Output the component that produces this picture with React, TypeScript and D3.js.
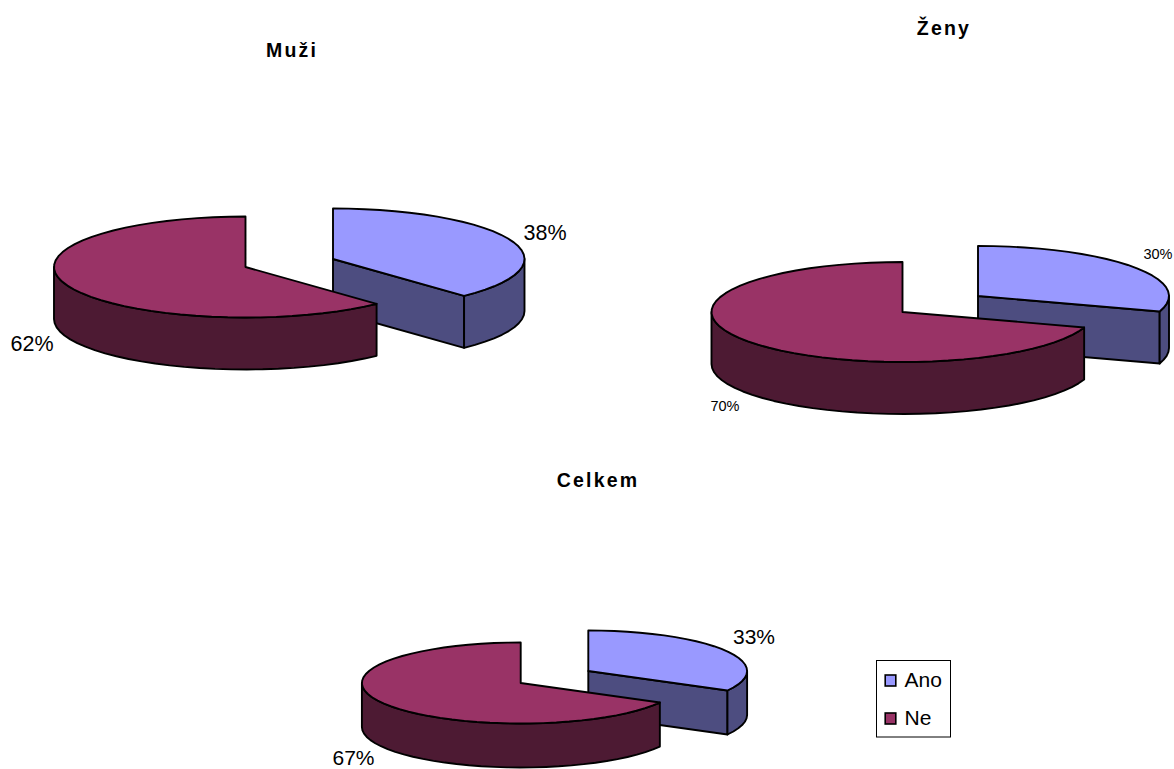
import React from "react";
import * as d3 from "d3";

// Share of answers per group, in percent.
const answers = ["Ano", "Ne"];
const menValues = [38, 62];
const womenValues = [30, 70];
const totalValues = [33, 67];

const topColors = ["#9999FF", "#993366"];
const sideColors = ["#4D4D80", "#4D1A33"];
const FONT = "'Liberation Sans', Arial, sans-serif";

type PieSpec = {
  title: string;
  titleX: number;
  titleY: number;
  values: number[];
  // Pie centre of each slice (the "Ano" slice is pulled out to the right).
  centers: [number, number][];
  rx: number;
  ry: number;
  depth: number;
  labelSize: number;
  labelPos: [number, number][];
};

const pies: PieSpec[] = [
  {
    title: "Muži", titleX: 292, titleY: 57, values: menValues,
    centers: [[333, 259], [245.5, 267]],
    rx: 191.5, ry: 50.5, depth: 52, labelSize: 21.5,
    labelPos: [[545, 239.5], [32, 351]],
  },
  {
    title: "Ženy", titleX: 944, titleY: 35, values: womenValues,
    centers: [[978, 296], [902.5, 312]],
    rx: 191, ry: 50, depth: 52, labelSize: 14.5,
    labelPos: [[1158, 259], [725, 411]],
  },
  {
    title: "Celkem", titleX: 598, titleY: 487, values: totalValues,
    centers: [[588.3, 671], [520.7, 683]],
    rx: 158.8, ry: 40.5, depth: 44, labelSize: 21,
    labelPos: [[754, 644], [353.5, 764.5]],
  },
];

const pieLayout = d3.pie<number>().sort(null);

// d3 angles run clockwise from twelve o'clock, which maps onto the tilted ellipse.
function rimPoint(cx: number, cy: number, rx: number, ry: number, a: number): [number, number] {
  return [cx + rx * Math.sin(a), cy - ry * Math.cos(a)];
}

// The rim is a coarse polyline, which gives the outline its faceted look.
function rimPoints(cx: number, cy: number, rx: number, ry: number, a0: number, a1: number) {
  const n = Math.max(2, Math.ceil(Math.abs(a1 - a0) / 0.085));
  const step = d3.scaleLinear().domain([0, n]).range([a0, a1]);
  return d3.range(n + 1).map((i) => rimPoint(cx, cy, rx, ry, step(i)));
}

const line = d3.line();

function Slice({ spec, index, arc }: { spec: PieSpec; index: number; arc: d3.PieArcDatum<number> }) {
  const [cx, cy] = spec.centers[index];
  const { rx, ry, depth } = spec;
  const stroke = { stroke: "#000", strokeWidth: 1.9, strokeLinejoin: "round" as const };

  // Outer wall: the part of the rim on the front half of the ellipse.
  const wallStart = Math.max(arc.startAngle, Math.PI / 2);
  const wallEnd = Math.min(arc.endAngle, (3 * Math.PI) / 2);
  const rim = rimPoints(cx, cy, rx, ry, wallStart, wallEnd);
  const wall = [...rim, ...rim.slice().reverse().map(([x, y]) => [x, y + depth] as [number, number])];

  // Cut face along the slice's closing edge, visible only when that edge points forward.
  const end = rimPoint(cx, cy, rx, ry, arc.endAngle);
  const showFace = arc.endAngle < Math.PI;
  const face: [number, number][] = [
    [cx, cy],
    end,
    [end[0], end[1] + depth],
    [cx, cy + depth],
  ];

  const top: [number, number][] = [[cx, cy], ...rimPoints(cx, cy, rx, ry, arc.startAngle, arc.endAngle)];

  return (
    <g>
      {showFace && <path d={line(face) + "Z"} fill={sideColors[index]} {...stroke} />}
      <path d={line(wall) + "Z"} fill={sideColors[index]} {...stroke} />
      <path d={line(top) + "Z"} fill={topColors[index]} {...stroke} />
    </g>
  );
}

function Pie({ spec }: { spec: PieSpec }) {
  const arcs = pieLayout(spec.values);
  return (
    <g>
      <text
        x={spec.titleX}
        y={spec.titleY}
        textAnchor="middle"
        fontFamily={FONT}
        fontWeight="bold"
        fontSize={19.5}
        letterSpacing={2.2}
        fill="#000"
      >
        {spec.title}
      </text>
      {arcs.map((arc, i) => (
        <Slice key={answers[i]} spec={spec} index={i} arc={arc} />
      ))}
      {spec.values.map((v, i) => (
        <text
          key={answers[i]}
          x={spec.labelPos[i][0]}
          y={spec.labelPos[i][1]}
          textAnchor="middle"
          fontFamily={FONT}
          fontSize={spec.labelSize}
          fill="#000"
        >
          {v}%
        </text>
      ))}
    </g>
  );
}

function Legend() {
  const y = d3.scalePoint<string>().domain(answers).range([680.5, 718.5]);
  return (
    <g>
      <rect x={876.5} y={660.5} width={74} height={76.5} fill="#fff" stroke="#000" strokeWidth={1} />
      {answers.map((name, i) => (
        <g key={name}>
          <rect
            x={885.2}
            y={(y(name) as number) - 5.5}
            width={10.6}
            height={11}
            fill={topColors[i]}
            stroke="#000"
            strokeWidth={1.6}
          />
          <text x={904.5} y={(y(name) as number) + 6} fontFamily={FONT} fontSize={21} fill="#000">
            {name}
          </text>
        </g>
      ))}
    </g>
  );
}

export default function App() {
  return (
    <svg
      width={1174}
      height={769}
      viewBox="0 0 1174 769"
      style={{ position: "absolute", left: 0, top: 0, display: "block", background: "#fff" }}
    >
      {pies.map((spec) => (
        <Pie key={spec.title} spec={spec} />
      ))}
      <Legend />
    </svg>
  );
}
